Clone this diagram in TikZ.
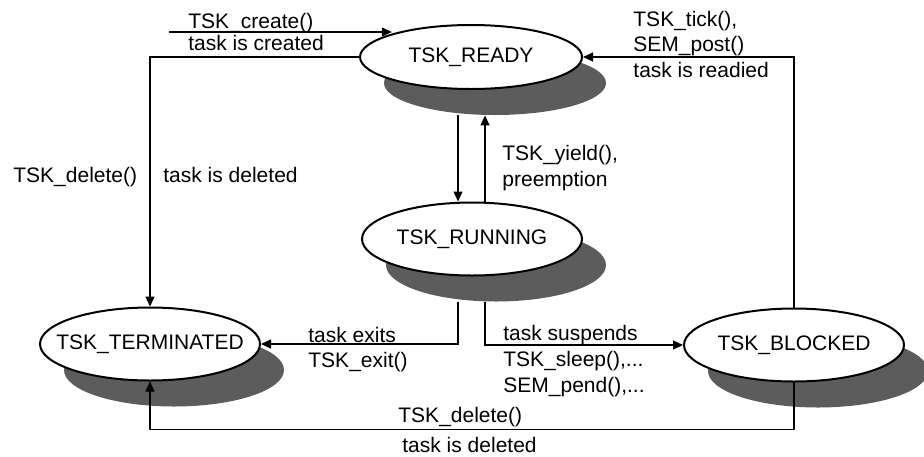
\documentclass[tikz,border=0pt]{standalone}
\usepackage{fontspec}
\setmainfont{Liberation Sans}
\usetikzlibrary{shapes.geometric,arrows.meta}
\definecolor{shadowgray}{RGB}{92,92,92}
\begin{document}
\begin{tikzpicture}[x=0.5pt,y=-0.5pt,font=\fontsize{10.5}{12}\selectfont,
	state/.style={ellipse,draw,line width=1pt,fill=white,inner sep=0pt,minimum width=110pt,minimum height=36.5pt},
	shade/.style={ellipse,fill=shadowgray,inner sep=0pt,minimum width=110pt,minimum height=36.5pt},
	arr/.style={line width=0.6pt,-{Triangle[length=5pt,width=4.5pt]}},
	lbl/.style={anchor=base west,inner sep=0pt}]
	\useasboundingbox (0,0) rectangle (924,456);
	% shadows
	\node[shade,minimum width=111pt,minimum height=32pt] (readysh) at (495,83) {};
	\node[shade] (runsh) at (496,265) {};
	\node[shade] (termsh) at (174,370) {};
	\node[shade] (blocksh) at (818,371) {};
	% states
	\node[state,minimum width=111pt,minimum height=32pt,label=center:TSK\_READY] (ready) at (471,57) {};
	\node[state,label=center:TSK\_RUNNING] (run) at (472,239) {};
	\node[state,label=center:TSK\_TERMINATED] (term) at (150,344) {};
	\node[state,label=center:TSK\_BLOCKED] (block) at (794,345) {};
	% transitions
	\coordinate (create) at (169,32);
	\draw[arr] (create) -- (create -| ready.north west);
	\draw[arr] (ready.west) -| (term.north);
	\draw[arr] (block.north) |- (ready.east);
	\draw[arr] ([xshift=-7pt]run.north |- readysh.south) -- ([xshift=-7pt]run.north);
	\draw[arr] ([xshift=6.5pt]run.north) -- ([xshift=6.5pt]run.north |- readysh.south);
	\draw[arr] ([xshift=-7pt]run.north |- runsh.south) |- (term.east);
	\draw[arr] ([xshift=6.5pt]run.north |- runsh.south) |- (block.west);
	\draw[arr] (block.south) -- ++(0,47) -| (term.south);
	% labels
	\node[lbl] (lcreate) at (188,28) {TSK\_create()};
	\node[lbl] (lcreated) at (188,50) {task is created};
	\node[lbl] (ltick) at (633,26) {TSK\_tick(),};
	\node[lbl] (lpost) at (633,51) {SEM\_post()};
	\node[lbl] (lreadied) at (633,77) {task is readied};
	\node[lbl] (ldelete) at (13,182) {TSK\_delete()};
	\node[lbl] (ldeleted) at (163,182) {task is deleted};
	\node[lbl] (lyield) at (502,160) {TSK\_yield(),};
	\node[lbl] (lpreempt) at (502,186) {preemption};
	\node[lbl] (lexits) at (308,342) {task exits};
	\node[lbl] (lexit) at (308,367) {TSK\_exit()};
	\node[lbl] (lsuspends) at (503,340) {task suspends};
	\node[lbl] (lsleep) at (503,366) {TSK\_sleep(),...};
	\node[lbl] (lpend) at (503,392) {SEM\_pend(),...};
	\node[lbl] (ldelete2) at (398,422) {TSK\_delete()};
	\node[lbl] (ldeleted2) at (402,452) {task is deleted};
\end{tikzpicture}
\end{document}
